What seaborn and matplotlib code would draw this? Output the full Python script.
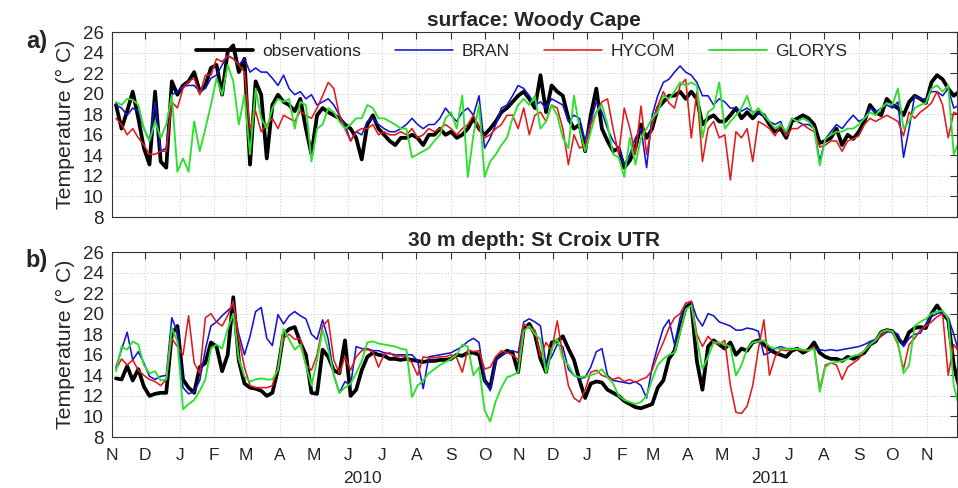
import pandas as pd
import matplotlib
matplotlib.use("Agg")
import matplotlib.pyplot as plt
import matplotlib.dates as mdates
import seaborn as sns

# Cores (estilo MATLAB)
OBS_COLOR = "#000000"
BRAN_COLOR = "#1414d2"
HYCOM_COLOR = "#e01b1b"
GLORYS_COLOR = "#2ee02e"

# Séries, um valor a cada 5 dias a partir de 5 nov 2009
# (uma linha por mês: N09, D09, J..D 2010, J..N 2011, D11)

# superfície: Woody Cape
surf_obs = [
    18.9, 16.6, 18.3, 20.2, 17.6,
    14.7, 13.1, 20.2, 13.4, 12.8, 21.2, 19.9,
    20.8, 21.2, 22.1, 20.2, 20.8, 22.5,
    22.8, 19.9, 24.1, 24.7, 22.1, 23.4,
    13.1, 21.2, 19.9, 13.7, 18.9, 19.9,
    19.2, 18.9, 18.3, 19.5, 16.6, 14.1,
    17.9, 18.6, 18.2, 17.9, 17.6, 17.0,
    16.6, 15.7, 13.6, 17.0, 17.9, 16.6,
    16.0, 15.4, 15.0, 15.7, 15.7, 16.0,
    15.7, 15.0, 16.0, 16.0, 16.6, 16.0,
    16.3, 15.7, 16.0, 16.6, 17.6, 16.6,
    16.0, 16.6, 17.3, 18.2, 18.6, 19.2,
    19.8, 20.2, 19.5, 18.6, 21.8, 18.2,
    20.8, 20.2, 19.8, 17.6, 16.6, 17.0, 14.4,
    17.9, 20.5, 16.6, 15.4, 14.4, 14.7,
    12.8, 13.5, 14.7, 17.0, 15.7, 16.6,
    18.6, 19.2, 19.8, 19.8, 20.2, 19.5,
    20.2, 19.5, 17.0, 17.6, 17.9, 17.3,
    17.3, 17.9, 18.6, 17.6, 18.2, 17.6,
    18.2, 17.9, 17.0, 16.3, 16.6, 15.7,
    17.3, 17.6, 17.9, 17.6, 17.0, 15.2,
    15.4, 15.7, 16.6, 15.0, 16.0, 15.6,
    16.3, 17.3, 18.9, 18.2, 17.9, 19.5,
    18.9, 18.6, 17.9, 19.2, 19.8, 19.5,
    19.1, 21.1, 21.8, 21.4, 20.5, 19.8,
    20.2,
]
surf_bran = [
    18.9, 18.6, 17.9, 18.6, 18.3,
    16.6, 15.4, 19.2, 14.4, 14.7, 19.9, 20.2,
    20.7, 20.8, 20.8, 20.2, 20.5, 21.5,
    21.8, 22.8, 23.7, 23.4, 22.8, 23.4,
    22.1, 22.5, 22.1, 22.1, 21.5, 20.8,
    21.8, 20.5, 19.9, 20.2, 19.5, 19.9,
    18.9, 19.2, 19.5, 18.9, 17.9, 17.0,
    15.4, 16.3, 16.0, 17.3, 17.6, 17.0,
    16.6, 16.3, 16.3, 16.6, 17.0, 17.6,
    17.0, 16.6, 17.0, 17.0, 17.6, 18.6,
    17.9, 17.3, 18.2, 18.6, 17.9, 19.8,
    14.7, 15.7, 17.0, 18.6, 18.9, 19.8,
    20.8, 20.5, 19.8, 18.9, 19.2, 18.6,
    19.5, 19.2, 18.9, 17.3, 17.9, 17.6, 15.4,
    17.3, 19.2, 18.2, 16.6, 15.4, 14.7,
    13.1, 14.1, 15.7, 16.6, 12.8, 17.9,
    19.8, 21.1, 21.4, 22.1, 22.7, 22.1,
    21.8, 21.1, 19.8, 19.8, 18.9, 19.5,
    19.2, 18.6, 18.6, 18.3, 18.6, 18.2,
    18.2, 17.9, 17.3, 17.0, 17.3, 15.9,
    17.6, 17.3, 17.0, 17.0, 16.6, 13.4,
    15.6, 16.3, 17.0, 16.6, 17.3, 17.9,
    17.3, 17.6, 18.6, 18.2, 18.6, 18.9,
    18.6, 19.2, 13.8, 16.6, 19.8, 19.5,
    19.5, 20.2, 20.2, 19.8, 20.5, 18.6,
    18.9,
]
surf_hycom = [
    17.6, 17.0, 16.0, 16.6, 15.7,
    15.0, 14.1, 14.1, 14.4, 14.4, 19.2, 18.6,
    20.5, 21.2, 21.5, 19.9, 21.8, 21.8,
    23.4, 23.1, 23.7, 23.4, 22.8, 22.1,
    16.6, 18.3, 16.3, 17.0, 17.6, 16.6,
    17.9, 17.6, 17.3, 18.3, 17.9, 17.6,
    18.6, 19.8, 21.1, 20.5, 17.9, 16.6,
    15.4, 16.3, 16.6, 16.6, 17.0, 16.0,
    16.3, 16.0, 16.0, 16.3, 16.0, 16.6,
    15.7, 16.0, 16.6, 16.3, 16.6, 17.0,
    16.6, 16.0, 16.6, 17.0, 17.9, 16.6,
    15.7, 16.0, 16.6, 17.0, 17.9, 17.9,
    16.6, 18.6, 16.0, 17.9, 18.2, 17.3,
    18.9, 18.6, 16.6, 13.1, 16.0, 14.7, 15.0,
    17.0, 18.2, 19.2, 19.5, 16.6, 14.1,
    18.6, 16.6, 14.1, 18.8, 14.1, 17.0,
    18.8, 20.2, 19.1, 18.6, 20.8, 21.4,
    15.7, 20.2, 13.4, 16.6, 17.3, 15.7,
    16.0, 11.6, 16.3, 15.7, 16.6, 13.4,
    17.3, 17.0, 16.6, 15.9, 17.0, 15.9,
    16.6, 16.6, 17.0, 16.6, 16.3, 14.8,
    15.0, 15.4, 15.4, 14.4, 15.4, 15.6,
    15.9, 17.0, 17.6, 17.3, 17.6, 17.9,
    17.6, 17.3, 15.9, 18.2, 17.6, 18.2,
    18.6, 19.1, 20.2, 18.9, 15.7, 18.2,
    17.9,
]
surf_glorys = [
    19.2, 18.9, 19.5, 19.4, 18.9,
    16.6, 15.4, 17.3, 15.7, 17.0, 19.9, 12.4,
    13.7, 12.4, 17.3, 14.4, 16.6, 18.9,
    21.5, 19.9, 22.8, 21.2, 17.0, 19.9,
    14.1, 20.5, 17.6, 16.6, 18.6, 19.5,
    19.2, 19.5, 16.6, 19.2, 18.9, 13.4,
    16.6, 17.0, 18.6, 18.2, 17.3, 16.6,
    17.0, 17.6, 17.6, 18.9, 18.6, 17.6,
    17.6, 17.3, 17.0, 16.6, 16.6, 13.8,
    14.1, 14.4, 14.7, 15.4, 16.0, 17.6,
    18.2, 16.6, 19.8, 11.9, 16.0, 18.9,
    11.9, 13.4, 14.1, 15.0, 15.7, 17.6,
    18.9, 19.5, 18.9, 19.8, 16.6, 17.3,
    18.9, 17.9, 15.7, 14.7, 19.8, 16.6, 14.4,
    16.3, 18.2, 18.9, 17.0, 14.1, 13.8,
    11.9, 15.7, 13.1, 15.7, 16.6, 17.6,
    18.2, 19.8, 19.5, 20.2, 21.1, 20.8,
    21.1, 20.8, 15.7, 18.2, 18.6, 21.1,
    16.6, 17.3, 17.9, 18.6, 19.8, 18.0,
    18.6, 17.9, 17.3, 16.6, 17.0, 16.3,
    17.6, 17.3, 17.6, 17.3, 16.6, 13.0,
    15.6, 16.0, 16.3, 16.3, 16.6, 16.6,
    17.0, 17.6, 18.2, 17.9, 18.6, 19.1,
    18.9, 20.5, 16.6, 17.3, 18.6, 18.9,
    19.1, 20.5, 20.8, 20.2, 20.8, 14.1,
    15.4,
]

# 30 m: St Croix UTR
deep_obs = [
    13.7, 13.6, 14.9, 13.5, 14.6,
    12.9, 12.0, 12.2, 12.3, 12.3, 18.0, 18.8,
    13.6, 12.8, 12.3, 14.8, 15.2, 17.2,
    16.8, 14.4, 16.0, 21.6, 15.4, 13.2,
    12.8, 12.7, 12.5, 12.0, 12.3, 14.6,
    18.0, 18.5, 18.7, 17.2, 16.0, 12.3,
    12.2, 16.5, 15.8, 14.5, 14.2, 17.4,
    12.0, 12.6, 14.5, 15.8, 16.2, 16.0,
    15.9, 15.6, 15.6, 15.5, 15.6, 15.5,
    15.4, 15.3, 15.4, 15.4, 15.5, 15.5,
    15.6, 16.0, 15.9, 16.2, 16.2, 16.0,
    13.5, 12.8, 15.6, 16.0, 16.4, 16.2,
    14.3, 18.5, 19.0, 18.0, 15.6, 14.3,
    17.2, 17.3, 17.8, 16.6, 15.5, 13.5, 11.8,
    13.2, 13.4, 13.3, 12.6, 12.3, 12.0,
    11.5, 11.2, 10.9, 10.8, 11.0, 11.2,
    12.8, 13.5, 15.6, 16.4, 18.6, 20.6,
    21.0, 15.4, 12.6, 16.8, 17.4, 17.0,
    16.6, 17.2, 16.0, 16.6, 16.4, 17.2,
    17.4, 17.0, 16.5, 16.2, 16.0, 15.8,
    16.4, 16.6, 16.2, 16.5, 17.2, 16.2,
    15.8, 15.6, 15.6, 15.4, 15.8, 15.6,
    15.9, 16.2, 17.0, 17.3, 18.2, 18.4,
    18.3, 17.6, 17.0, 18.2, 18.6, 18.7,
    18.6, 20.0, 20.8, 20.0, 19.4, 15.0,
    12.8,
]
deep_bran = [
    14.8, 16.5, 18.2, 15.5, 16.3,
    15.2, 13.9, 13.6, 13.9, 14.0, 19.6, 18.2,
    12.8, 12.2, 12.4, 13.5, 16.5, 18.8,
    19.2, 19.8, 20.3, 20.8, 18.0, 16.0,
    17.8, 20.2, 20.6, 17.6, 16.9, 19.9,
    19.0, 19.8, 20.2, 19.8, 19.5, 18.0,
    17.5, 19.4, 17.5, 14.0, 12.3, 13.4,
    13.0, 16.8, 16.6, 16.6, 16.4, 16.4,
    16.2, 16.1, 16.0, 16.0, 16.0, 16.0,
    15.4, 12.7, 15.8, 15.9, 16.0, 16.1,
    16.2, 16.5, 16.8, 17.3, 17.6, 17.2,
    13.5, 12.5, 15.4, 16.0, 16.2, 16.4,
    16.2, 19.2, 19.5, 19.2, 18.8, 15.0,
    15.8, 17.0, 16.8, 14.6, 14.0, 13.7, 13.8,
    14.8, 16.3, 16.6, 14.0, 13.5, 13.4,
    13.3, 13.2, 13.4, 13.0, 11.8, 14.8,
    16.8, 18.6, 19.4, 17.0, 19.6, 21.0,
    21.2, 19.6, 18.8, 20.0, 19.8, 19.2,
    19.0, 18.8, 18.4, 18.4, 18.6, 18.5,
    18.3, 16.0, 16.2, 16.6, 16.8, 16.6,
    16.6, 16.6, 16.4, 16.5, 16.6, 16.5,
    16.4, 16.5, 16.4, 16.5, 16.6, 16.7,
    16.8, 17.0, 17.3, 17.5, 17.8, 18.2,
    18.3, 18.0, 16.8, 17.6, 18.0, 18.1,
    19.0, 19.7, 20.0, 20.2, 19.6, 18.0,
    16.0,
]
deep_hycom = [
    14.6, 15.6, 15.0, 15.5, 14.5,
    14.0, 13.6, 13.4, 13.0, 13.6, 17.6, 16.8,
    16.0, 19.8, 15.2, 14.2, 19.6, 20.0,
    19.2, 18.8, 19.8, 21.2, 17.5, 14.8,
    13.0, 12.8, 12.8, 12.8, 13.0, 14.8,
    17.6, 18.0, 17.5, 17.6, 15.0, 14.5,
    16.0, 18.8, 19.4, 15.5, 14.2, 15.8,
    14.5, 15.8, 16.4, 16.5, 16.3, 14.8,
    16.0, 16.2, 15.8, 15.9, 15.8, 15.2,
    14.0, 15.8, 15.7, 15.7, 15.8, 15.8,
    16.0, 15.7, 14.3, 16.5, 16.3, 16.4,
    14.6, 14.8, 15.8, 16.4, 16.2, 16.0,
    15.5, 19.0, 18.6, 18.4, 15.8, 17.2,
    16.4, 19.3, 16.0, 13.0, 11.8, 11.4, 12.6,
    14.3, 14.5, 14.0, 13.8, 13.6, 13.8,
    13.4, 13.6, 13.3, 13.6, 13.8, 14.5,
    16.0, 17.2, 18.6, 19.6, 20.0, 21.0,
    21.2, 18.0, 16.8, 17.8, 17.2, 17.0,
    17.4, 13.0, 10.4, 10.3, 11.0, 13.0,
    16.5, 19.4, 14.0, 15.8, 16.5, 16.4,
    16.6, 16.5, 16.4, 16.4, 16.8, 12.6,
    15.0, 15.2, 15.0, 13.6, 14.8, 15.2,
    15.6, 16.4, 17.0, 17.4, 17.8, 18.4,
    18.2, 17.0, 14.6, 17.0, 17.6, 18.4,
    18.8, 19.2, 19.7, 20.0, 14.0, 17.0,
    16.2,
]
deep_glorys = [
    14.4, 16.8, 16.5, 17.3, 17.0,
    15.0, 14.2, 14.4, 13.5, 13.6, 18.6, 17.3,
    10.7, 11.2, 11.6, 12.5, 13.6, 16.6,
    17.0, 16.6, 18.5, 20.0, 15.6, 13.9,
    13.4, 13.6, 13.7, 13.6, 13.6, 14.5,
    18.5, 17.5, 16.5, 17.0, 15.0, 13.0,
    15.5, 18.4, 16.5, 14.0, 12.3, 12.8,
    13.2, 14.2, 15.4, 17.2, 17.3, 17.1,
    17.0, 16.9, 16.8, 16.6, 16.5, 11.9,
    13.0, 13.5, 14.2, 14.6, 15.0, 15.3,
    15.6, 16.0, 17.0, 16.8, 14.0, 14.8,
    10.6, 9.5, 11.5, 12.8, 13.8, 14.0,
    14.3, 18.3, 18.8, 18.0, 17.5, 14.2,
    16.5, 17.6, 15.6, 15.0, 14.0, 13.8, 13.9,
    14.0, 14.2, 14.6, 13.8, 13.2, 12.0,
    11.6, 11.4, 11.2, 11.4, 12.0, 13.6,
    15.0, 15.6, 16.0, 16.2, 18.2, 20.4,
    20.8, 17.6, 14.6, 15.8, 17.2, 17.2,
    17.0, 16.8, 14.0, 15.0, 16.6, 17.2,
    17.3, 17.4, 16.8, 16.6, 16.6, 16.6,
    16.5, 16.6, 16.5, 16.4, 16.6, 12.4,
    14.8, 15.2, 15.3, 15.4, 15.6, 15.9,
    16.0, 16.4, 17.0, 17.4, 18.2, 18.4,
    18.3, 17.2, 14.2, 15.0, 18.8, 19.2,
    19.5, 20.0, 20.2, 20.3, 19.5, 13.0,
    10.8,
]

month_labels = ["N", "D", "J", "F", "M", "A", "M", "J", "J", "A", "S", "O",
                "N", "D", "J", "F", "M", "A", "M", "J", "J", "A", "S", "O", "N"]
year_labels = ["2010", "2011"]
year_label_dates = ["2010-06-14", "2011-06-13"]
y_ticks = list(range(8, 27, 2))


def plot_panel(ax, series, title, show_months):
    for name, vals, color, lw in series:
        dates = pd.date_range("2009-11-05", periods=len(vals), freq="5D")
        sns.lineplot(x=dates, y=vals, color=color, linewidth=lw, label=name,
                     ax=ax, legend=False)
    ax.set_xlim(pd.Timestamp("2009-11-01"), pd.Timestamp("2011-11-28"))
    ax.set_ylim(8, 26)
    ax.set_yticks(y_ticks)
    month_ticks = pd.date_range("2009-11-01", periods=len(month_labels), freq="MS")
    ax.set_xticks(month_ticks)
    if show_months:
        ax.set_xticklabels(month_labels)
    else:
        ax.set_xticklabels([])
    ax.set_xlabel("")
    ax.set_ylabel("Temperature (° C)", fontsize=15.3)
    ax.yaxis.set_label_coords(-0.043, 0.5)
    ax.set_title(title, fontsize=15, fontweight="bold", pad=4.5)
    ax.tick_params(direction="in", top=True, right=True, length=5, width=0.8,
                   color="#333333")
    ax.tick_params(axis="y", pad=5.5, labelsize=13.5)
    ax.tick_params(axis="x", pad=8, labelsize=12.5)
    ax.grid(True, color="#c8c8c8", linestyle=(0, (1, 2)), linewidth=0.7)
    ax.set_axisbelow(True)
    for sp in ax.spines.values():
        sp.set_color("#333333")
        sp.set_linewidth(0.8)


sns.set_theme(style="white")
plt.rcParams["font.family"] = ["Liberation Sans", "DejaVu Sans"]

fig = plt.figure(figsize=(9.58, 4.88), dpi=100)
ax_a = fig.add_axes([0.1164, 0.5553, 0.8827, 0.3791])
ax_b = fig.add_axes([0.1164, 0.1045, 0.8827, 0.3791])

surf_series = [
    ("observations", surf_obs, OBS_COLOR, 2.7),
    ("BRAN", surf_bran, BRAN_COLOR, 1.15),
    ("HYCOM", surf_hycom, HYCOM_COLOR, 1.15),
    ("GLORYS", surf_glorys, GLORYS_COLOR, 1.35),
]
deep_series = [
    ("observations", deep_obs, OBS_COLOR, 2.7),
    ("BRAN", deep_bran, BRAN_COLOR, 1.15),
    ("HYCOM", deep_hycom, HYCOM_COLOR, 1.15),
    ("GLORYS", deep_glorys, GLORYS_COLOR, 1.35),
]

plot_panel(ax_a, surf_series, "surface: Woody Cape", False)
plot_panel(ax_b, deep_series, "30 m depth: St Croix UTR", True)

ax_a.legend(loc="center", bbox_to_anchor=(0.485, 0.895), ncol=4, frameon=False,
            fontsize=12.5, handlelength=3.3, handletextpad=0.5, columnspacing=2.0)

for label, d in zip(year_labels, year_label_dates):
    ax_b.annotate(label, xy=(mdates.date2num(pd.Timestamp(d)), -0.222),
                  xycoords=("data", "axes fraction"), ha="center", va="center",
                  fontsize=12.5, annotation_clip=False)

fig.text(0.038, 0.914, "a)", fontsize=17, fontweight="bold", ha="center", va="center")
fig.text(0.038, 0.466, "b)", fontsize=17, fontweight="bold", ha="center", va="center")

fig.savefig("out.png", dpi=100, facecolor="white")
